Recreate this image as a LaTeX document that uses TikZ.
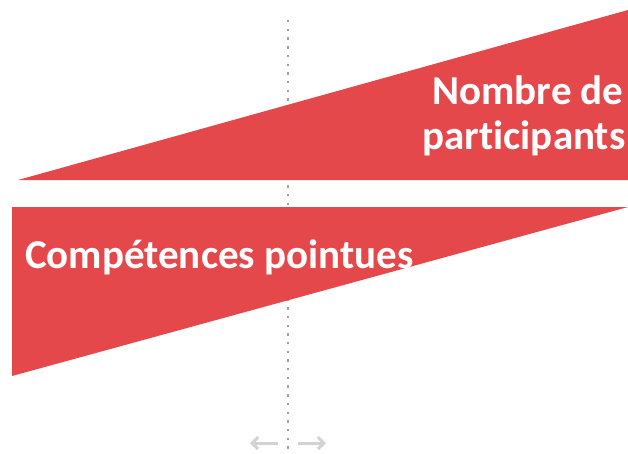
\documentclass[tikz,border=0pt]{standalone}
\usepackage{fontspec}
\setmainfont{Carlito}[Ligatures=NoCommon]
\usetikzlibrary{arrows.meta}
\definecolor{wred}{HTML}{E5484A}
\begin{document}
\begin{tikzpicture}[x=1pt,y=-1pt,
  wedge/.style={fill=wred,draw=none},
  lbl/.style={text=white,font=\bfseries\fontsize{41}{45}\selectfont,inner sep=0pt},
  guide/.style={draw=gray!75,line width=2.4pt,dash pattern=on 2.4pt off 6.3pt},
  harrow/.style={draw=gray!35,line width=3pt,-{Straight Barb[length=6pt,width=12pt]}}]
\useasboundingbox (0,0) rectangle (628,453);
% dotted guide behind
\coordinate (gtop) at (288,20);
\coordinate (gbot) at (288,452);
\draw[guide] (gtop) -- (gbot);
% wedges
\coordinate (t1) at (18,180);
\coordinate (t2) at (628,10);
\coordinate (t3) at (628,180);
\fill[wedge] (t1) -- (t2) -- (t3) -- cycle;
\coordinate (b1) at (12,207);
\coordinate (b2) at (628,207);
\coordinate (b3) at (12,376);
\fill[wedge] (b1) -- (b2) -- (b3) -- cycle;
% labels
\node[lbl,anchor=base] (n1) at (528,104) {Nombre de};
\node[lbl,anchor=base] (n2) at (524,149) {participants};
\node[lbl,anchor=base west] (cp) at (25,268) {Compétences pointues};
% arrows
\coordinate (la) at (278,443);
\coordinate (lb) at (250,443);
\coordinate (ra) at (298,443);
\coordinate (rb) at (326,443);
\draw[harrow] (la) -- (lb);
\draw[harrow] (ra) -- (rb);
\end{tikzpicture}
\end{document}
